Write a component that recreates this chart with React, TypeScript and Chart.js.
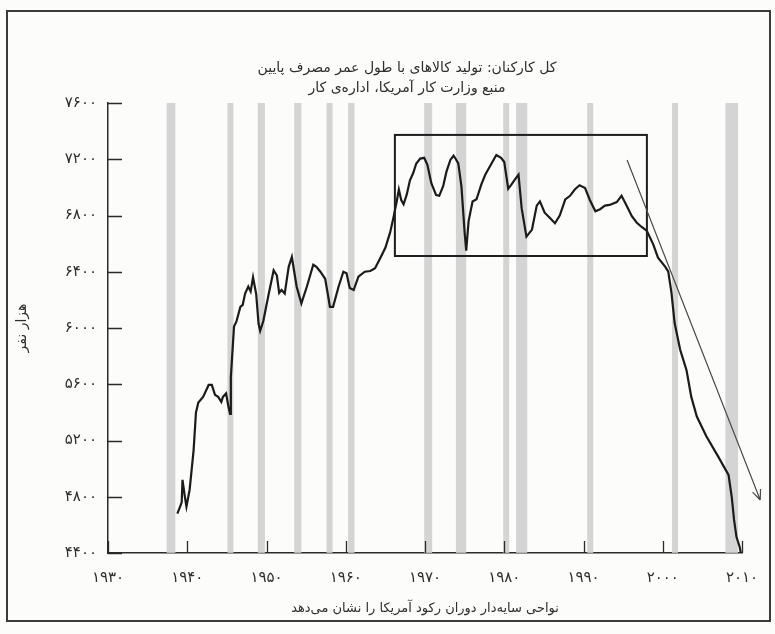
import { useEffect, useRef } from 'react';
import { Chart, registerables } from 'chart.js';

Chart.register(...registerables);

// ---- data ----
const years = [
  1938.75, 1939.1, 1939.3, 1939.4, 1939.7, 1939.9, 1940.3, 1940.8, 1941.1, 1941.4,
  1942.0, 1942.7, 1943.1, 1943.5, 1943.9, 1944.3, 1944.5, 1944.9, 1945.2, 1945.4,
  1945.5, 1945.9, 1946.2, 1946.7, 1947.0, 1947.3, 1947.7, 1948.0, 1948.3, 1948.7,
  1949.0, 1949.2, 1949.6, 1950.2, 1950.9, 1951.3, 1951.6, 1951.9, 1952.3, 1952.8,
  1953.2, 1953.8, 1954.4, 1955.1, 1955.9, 1956.3, 1956.8, 1957.4, 1957.8, 1958.0,
  1958.4, 1959.1, 1959.7, 1960.1, 1960.5, 1961.0, 1961.6, 1962.4, 1963.1, 1963.7,
  1964.3, 1965.0, 1965.6, 1966.0, 1966.4, 1966.7, 1967.0, 1967.3, 1967.7, 1968.1,
  1968.5, 1968.9, 1969.4, 1969.9, 1970.3, 1970.8, 1971.4, 1971.8, 1972.3, 1972.7,
  1973.2, 1973.6, 1973.9, 1974.2, 1974.6, 1975.0, 1975.2, 1975.5, 1976.0, 1976.5,
  1977.1, 1977.6, 1978.2, 1979.0, 1979.6, 1980.0, 1980.5, 1980.9, 1981.4, 1981.8,
  1982.2, 1982.8, 1983.5, 1984.1, 1984.5, 1985.1, 1985.8, 1986.4, 1987.0, 1987.7,
  1988.3, 1988.9, 1989.5, 1990.2, 1990.8, 1991.5, 1992.1, 1992.7, 1993.3, 1994.2,
  1994.8, 1995.4, 1996.1, 1996.7, 1997.3, 1998.0, 1998.8, 1999.4, 2000.3, 2000.7,
  2001.1, 2001.5, 2002.2, 2003.0, 2003.6, 2004.3, 2005.5, 2007.0, 2008.3, 2008.7,
  2009.0, 2009.3, 2009.7, 2009.85,
];
const employees = [
  4680, 4730, 4760, 4920, 4800, 4730, 4850, 5130, 5400, 5470,
  5510, 5595, 5595, 5525, 5510, 5475, 5510, 5535, 5440, 5390,
  5650, 6010, 6045, 6150, 6165, 6245, 6295, 6260, 6360, 6240,
  6030, 5980, 6050, 6220, 6410, 6375, 6250, 6270, 6245, 6435,
  6505, 6295, 6175, 6295, 6450, 6435, 6400, 6350, 6220, 6150,
  6150, 6295, 6400, 6390, 6285, 6270, 6365, 6400, 6405, 6425,
  6490, 6570, 6680, 6780, 6890, 6985, 6910, 6880, 6950, 7050,
  7100, 7170, 7205, 7210, 7160, 7030, 6945, 6940, 7010, 7110,
  7195, 7225, 7200, 7170, 7005, 6680, 6550, 6760, 6900, 6915,
  7020, 7090, 7150, 7230, 7210, 7180, 6990, 7020, 7060, 7090,
  6850, 6650, 6700, 6870, 6900, 6820, 6780, 6745, 6800, 6915,
  6940, 6985, 7015, 6995, 6910, 6830, 6845, 6870, 6875, 6895,
  6940, 6875, 6795, 6750, 6720, 6690, 6595, 6500, 6436, 6400,
  6250, 6035, 5845, 5700, 5510, 5370, 5230, 5085, 4955, 4800,
  4635, 4515, 4445, 4400,
];

const recessionStarts = [1937.4, 1945.1, 1948.9, 1953.5, 1957.6, 1960.3, 1969.9, 1973.9, 1980.0, 1981.5, 1990.5, 2001.2, 2007.9];
const recessionEnds = [1938.5, 1945.8, 1949.8, 1954.4, 1958.3, 1961.1, 1970.9, 1975.2, 1980.5, 1982.9, 1991.2, 2001.9, 2009.5];

const xTickValues = [1930, 1940, 1950, 1960, 1970, 1980, 1990, 2000, 2010];
const xTickLabels = ['۱۹۳۰', '۱۹۴۰', '۱۹۵۰', '۱۹۶۰', '۱۹۷۰', '۱۹۸۰', '۱۹۹۰', '۲۰۰۰', '۲۰۱۰'];
const yTickValues = [4400, 4800, 5200, 5600, 6000, 6400, 6800, 7200, 7600];
const yTickLabels = ['۴۴۰۰', '۴۸۰۰', '۵۲۰۰', '۵۶۰۰', '۶۰۰۰', '۶۴۰۰', '۶۸۰۰', '۷۲۰۰', '۷۶۰۰'];

const titleLines = ['کل کارکنان: تولید کالاهای با طول عمر مصرف پایین', 'منبع وزارت کار آمریکا، اداره‌ی کار'];
const yAxisTitle = 'هزار نفر';
const xAxisTitle = 'نواحی سایه‌دار دوران رکود آمریکا را نشان می‌دهد';

// annotations in data coordinates
const highlightBoxX = [1966.2, 1998.0];
const highlightBoxY = [6512, 7373];
const trendArrowX = [1995.5, 2012.3];
const trendArrowY = [7195, 4777];

const FONT = '"DejaVu Sans", sans-serif';
const TEXT = '#2e2e2e';

const decorPlugin = {
  id: 'decor',
  beforeDatasetsDraw(chart: any) {
    const { ctx, chartArea, scales } = chart;
    const xs = scales.x;
    ctx.save();
    ctx.fillStyle = 'rgba(205,205,205,0.85)';
    for (let i = 0; i < recessionStarts.length; i++) {
      let a = xs.getPixelForValue(recessionStarts[i]);
      let b = xs.getPixelForValue(recessionEnds[i]);
      if (b - a < 6) {
        const m = (a + b) / 2;
        a = m - 3;
        b = m + 3;
      }
      ctx.fillRect(a, chartArea.top, b - a, chartArea.bottom - chartArea.top);
    }
    ctx.restore();
  },
  afterDatasetsDraw(chart: any) {
    const { ctx, chartArea, scales } = chart;
    const xs = scales.x;
    const ys = scales.y;
    ctx.save();
    // inward ticks
    ctx.strokeStyle = '#2a2a2a';
    ctx.lineWidth = 1.3;
    ctx.beginPath();
    yTickValues.forEach((v) => {
      const py = Math.round(ys.getPixelForValue(v)) + 0.5;
      ctx.moveTo(chartArea.left, py);
      ctx.lineTo(chartArea.left + 14, py);
    });
    xTickValues.forEach((v) => {
      const px = Math.round(xs.getPixelForValue(v)) + 0.5;
      ctx.moveTo(px, chartArea.bottom);
      ctx.lineTo(px, chartArea.bottom - 12);
    });
    ctx.stroke();

    // highlight box
    const bx0 = xs.getPixelForValue(highlightBoxX[0]);
    const bx1 = xs.getPixelForValue(highlightBoxX[1]);
    const by0 = ys.getPixelForValue(highlightBoxY[1]);
    const by1 = ys.getPixelForValue(highlightBoxY[0]);
    ctx.strokeStyle = '#1e1e1e';
    ctx.lineWidth = 2;
    ctx.strokeRect(bx0, by0, bx1 - bx0, by1 - by0);

    // trend arrow
    const ax0 = xs.getPixelForValue(trendArrowX[0]);
    const ay0 = ys.getPixelForValue(trendArrowY[0]);
    const ax1 = xs.getPixelForValue(trendArrowX[1]);
    const ay1 = ys.getPixelForValue(trendArrowY[1]);
    ctx.strokeStyle = '#4a4a4a';
    ctx.lineWidth = 1.2;
    ctx.beginPath();
    ctx.moveTo(ax0, ay0);
    ctx.lineTo(ax1, ay1);
    const ang = Math.atan2(ay1 - ay0, ax1 - ax0);
    const L = 11;
    ctx.moveTo(ax1, ay1);
    ctx.lineTo(ax1 - L * Math.cos(ang - 0.4), ay1 - L * Math.sin(ang - 0.4));
    ctx.moveTo(ax1, ay1);
    ctx.lineTo(ax1 - L * Math.cos(ang + 0.4), ay1 - L * Math.sin(ang + 0.4));
    ctx.stroke();

    // title
    ctx.fillStyle = TEXT;
    ctx.font = `14px ${FONT}`;
    ctx.textAlign = 'center';
    ctx.textBaseline = 'middle';
    const cx = (chartArea.left + chartArea.right) / 2 - 18;
    ctx.fillText(titleLines[0], cx, 68);
    ctx.fillText(titleLines[1], cx, 88);
    ctx.restore();
  },
};

export default function App() {
  const ref = useRef<HTMLCanvasElement | null>(null);

  useEffect(() => {
    if (!ref.current) return;
    const chart = new Chart(ref.current, {
      type: 'line',
      data: {
        datasets: [
          {
            data: years.map((y, i) => ({ x: y, y: employees[i] })),
            borderColor: '#1b1b1b',
            borderWidth: 2.2,
            pointRadius: 0,
            tension: 0,
            fill: false,
          },
        ],
      },
      options: {
        responsive: false,
        animation: false,
        layout: { padding: { left: 10, right: 33, top: 103, bottom: 13 } },
        plugins: {
          legend: { display: false },
          tooltip: { enabled: false },
          title: { display: false },
        },
        scales: {
          x: {
            type: 'linear',
            min: 1930,
            max: 2010,
            afterFit: (s: any) => {
              s.height = 68;
            },
            afterBuildTicks: (s: any) => {
              s.ticks = xTickValues.map((v) => ({ value: v }));
            },
            ticks: {
              callback: (v: any) => {
                const i = xTickValues.indexOf(Number(v));
                return i >= 0 ? xTickLabels[i] : '';
              },
              font: { family: FONT, size: 15 },
              color: TEXT,
              padding: 16,
              maxRotation: 0,
              autoSkip: false,
            },
            grid: { display: true, drawOnChartArea: false, drawTicks: false },
            border: { display: true, color: '#2a2a2a', width: 1.5 },
            title: {
              display: true,
              text: xAxisTitle,
              font: { family: FONT, size: 13 },
              color: TEXT,
              padding: { top: 0, bottom: 5 },
            },
          },
          y: {
            type: 'linear',
            min: 4400,
            max: 7600,
            afterFit: (s: any) => {
              s.width = 98;
            },
            afterBuildTicks: (s: any) => {
              s.ticks = yTickValues.map((v) => ({ value: v }));
            },
            ticks: {
              callback: (v: any) => {
                const i = yTickValues.indexOf(Number(v));
                return i >= 0 ? yTickLabels[i] : '';
              },
              font: { family: FONT, size: 15 },
              color: TEXT,
              padding: 11,
              autoSkip: false,
            },
            grid: { display: true, drawOnChartArea: false, drawTicks: false },
            border: { display: true, color: '#2a2a2a', width: 1.5 },
            title: {
              display: true,
              text: yAxisTitle,
              font: { family: FONT, size: 14 },
              color: TEXT,
              padding: { top: 4, bottom: 0 },
            },
          },
        },
      },
      plugins: [decorPlugin],
    } as any);
    return () => chart.destroy();
  }, []);

  return (
    <div
      style={{
        position: 'fixed',
        left: 0,
        top: 0,
        width: 775,
        height: 634,
        background: '#fcfcfa',
        overflow: 'hidden',
      }}
    >
      <div
        style={{
          position: 'absolute',
          left: 6,
          top: 10,
          width: 765,
          height: 612,
          border: '2px solid #3a3a3a',
          boxSizing: 'border-box',
        }}
      />
      <canvas
        ref={ref}
        width={775}
        height={634}
        style={{ position: 'absolute', left: 0, top: 0, width: 775, height: 634 }}
      />
    </div>
  );
}
